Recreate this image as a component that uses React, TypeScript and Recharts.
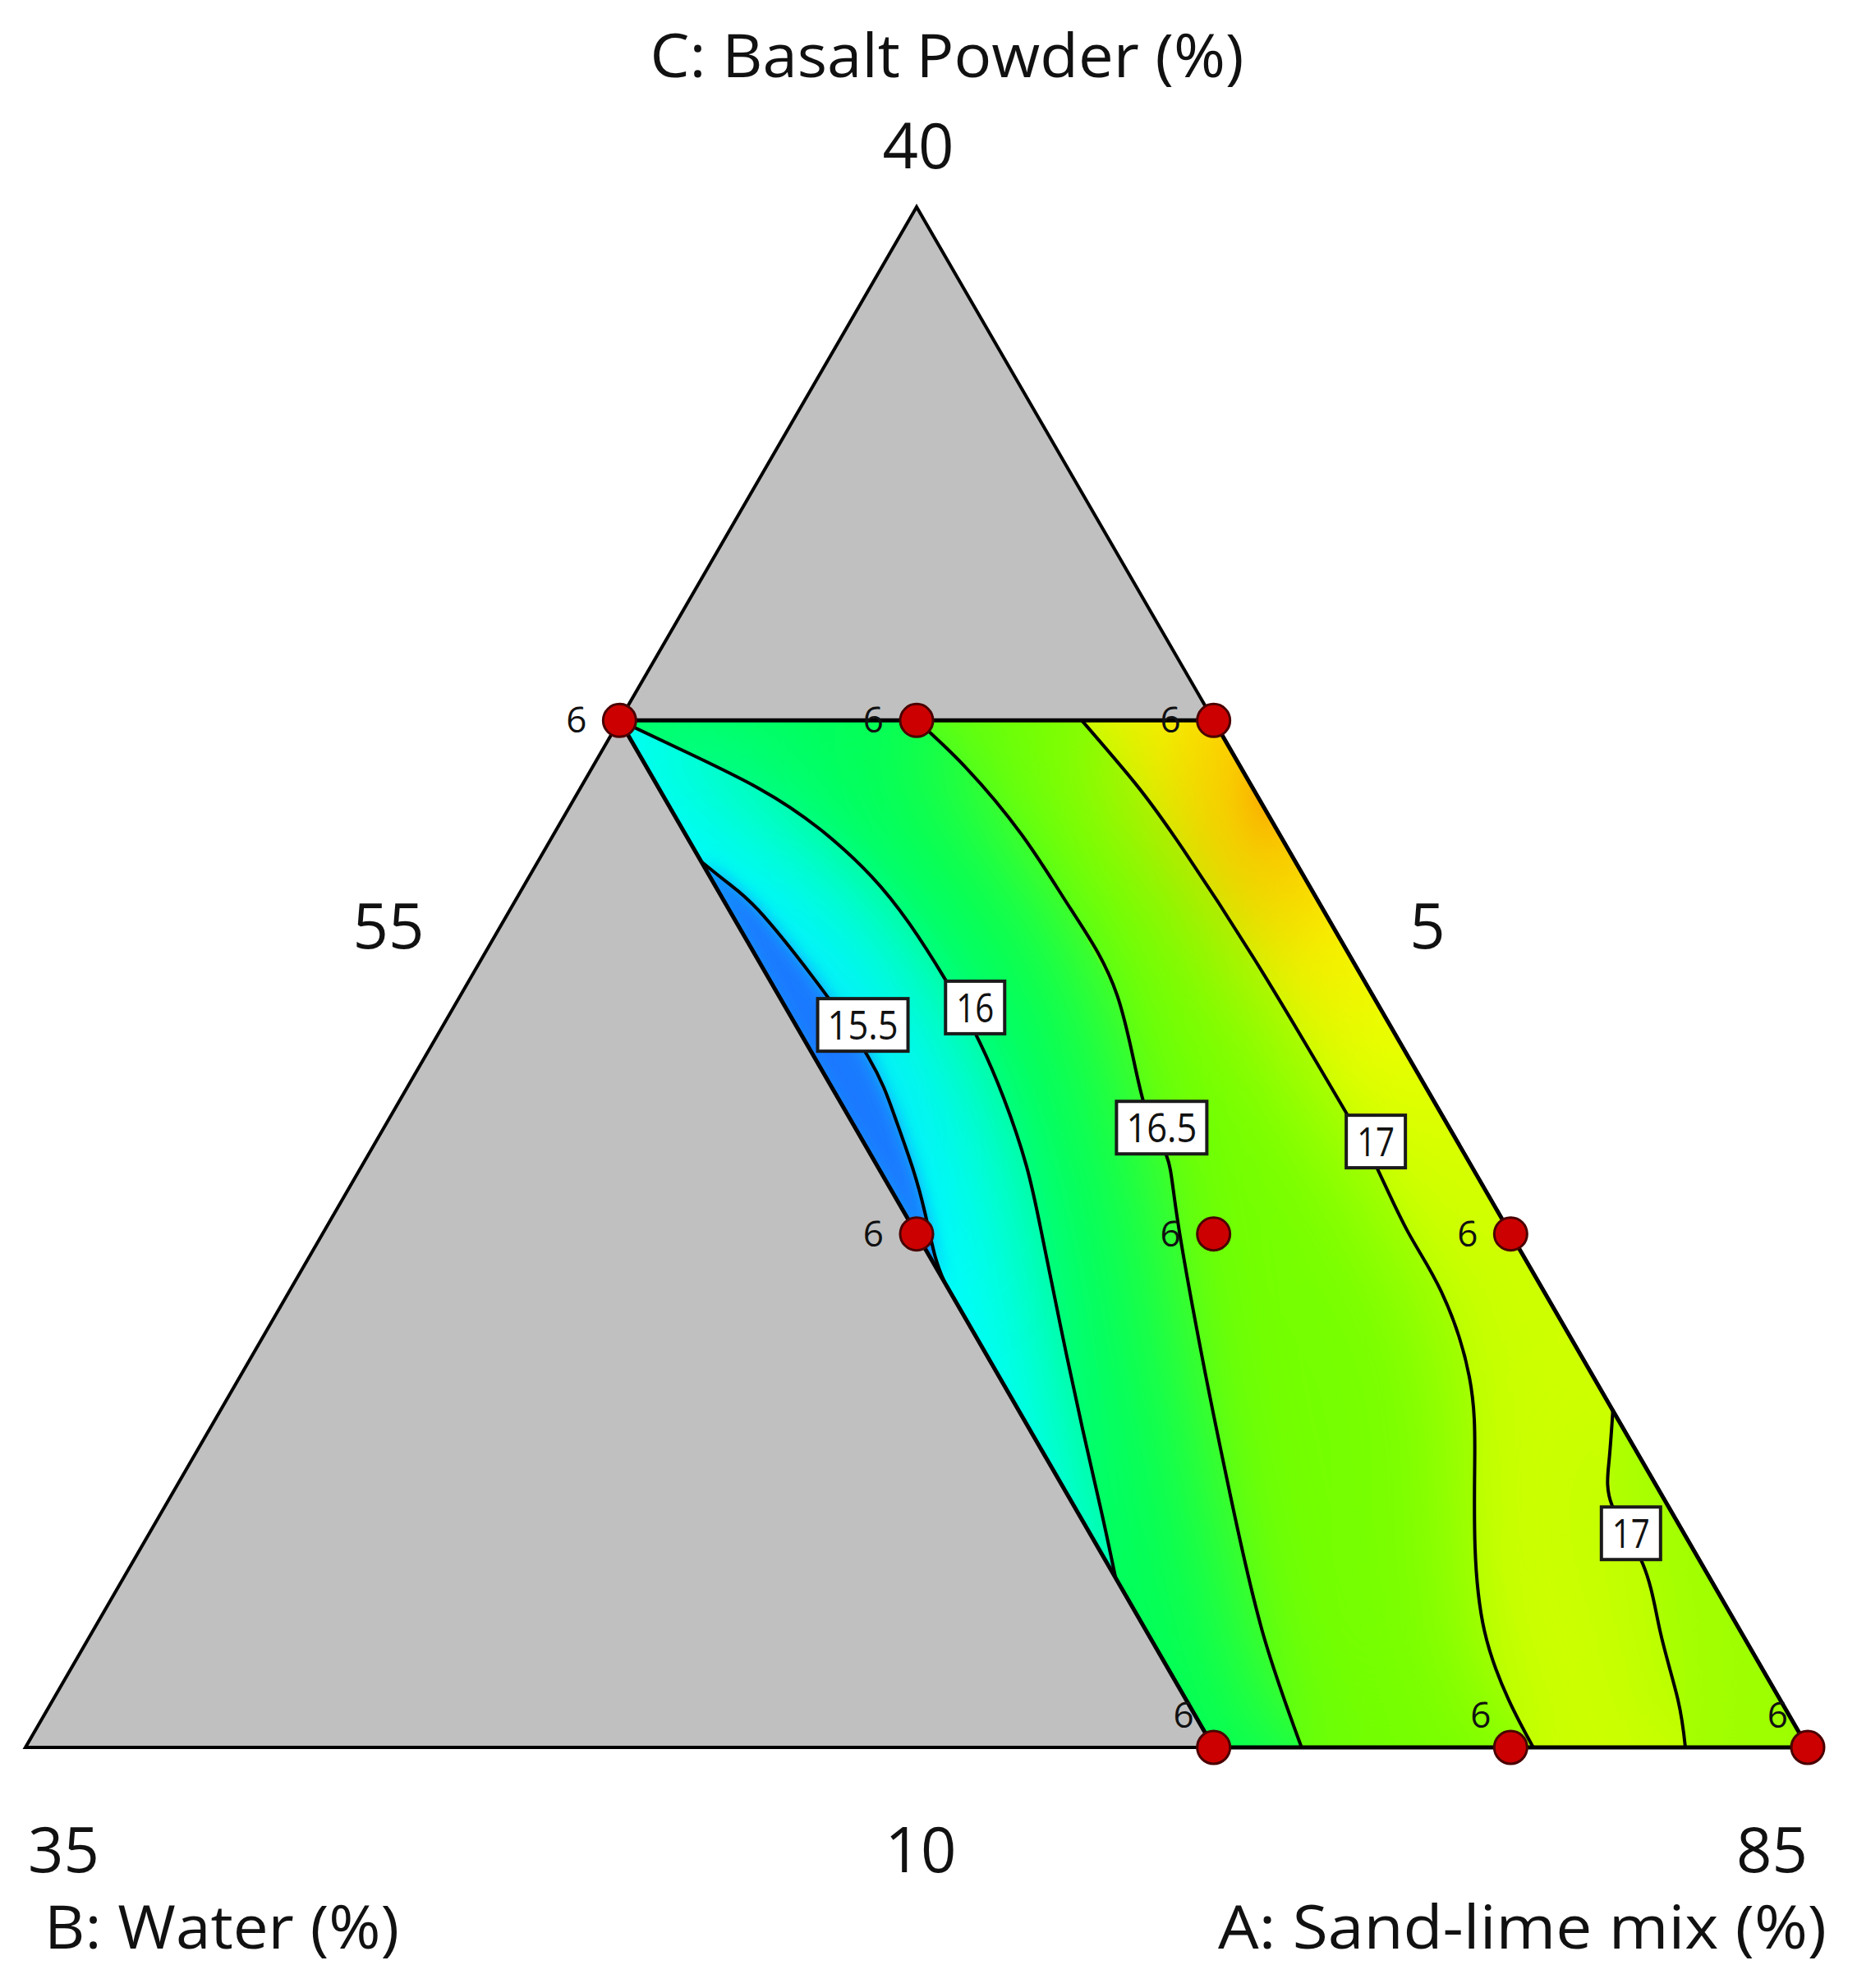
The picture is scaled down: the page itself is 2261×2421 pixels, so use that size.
import React from 'react';
import { ScatterChart, Scatter, XAxis, YAxis } from 'recharts';

// pseudo-component bounds of the simplex (%)
const sandRange = [55, 85];
const waterRange = [5, 35];
const basaltRange = [10, 40];

// constrained design region (water, basalt)
const regionWater = [15, 5, 5, 15];
const regionBasalt = [30, 30, 10, 10];

// design runs: water (B) and basalt (C); sand-lime = 100 - B - C
const runWater = [15, 10, 5, 15, 10, 5, 15, 10, 5];
const runBasalt = [30, 30, 30, 20, 20, 20, 10, 10, 10];
const runReplicates = [6, 6, 6, 6, 6, 6, 6, 6, 6];

// contour lines (water %, basalt %)
const water155 = [15.0, 14.75, 14.51, 14.25, 14.09, 14.22, 14.43, 14.66, 14.91, 15.0];
const basalt155 = [27.25, 26.82, 26.3, 25.03, 23.45, 22.31, 21.26, 20.39, 19.55, 19.05];

const water16 = [15.0, 14.22, 13.32, 12.69, 12.28, 12.1, 12.04, 12.06, 12.21, 12.49, 12.88, 13.47, 14.1, 14.6, 15.0];
const basalt16 = [30.0, 29.41, 28.68, 27.89, 26.97, 26.04, 24.97, 23.88, 22.65, 21.32, 20.04, 18.22, 16.22, 14.57, 13.3];

const water165 = [10.0, 9.63, 9.34, 9.24, 9.3, 9.89, 10.03, 10.45, 11.41, 12.27, 13.05, 13.52];
const basalt165 = [30.0, 29.08, 27.75, 26.3, 24.65, 22.59, 21.53, 20.33, 17.55, 14.89, 12.26, 10.0];

const water17a = [7.22, 6.93, 6.77, 6.63, 6.59, 6.61, 6.71, 6.73, 7.09, 7.82, 8.65, 9.31, 9.57, 9.62];
const basalt17a = [30.0, 28.76, 27.5, 25.11, 22.36, 21.26, 20.04, 18.88, 17.21, 15.57, 13.9, 12.26, 10.93, 10.0];

const water17b = [5.0, 5.56, 5.94, 5.99, 6.36, 6.72, 7.06];
const basalt17b = [16.56, 15.57, 14.7, 13.57, 12.24, 10.93, 10.0];

// contour labels
const tagText = ['15.5', '16', '16.5', '17', '17'];
const tagWater = [13.87, 11.81, 9.84, 6.37, 5.89];
const tagBasalt = [24.07, 24.41, 22.07, 21.8, 14.17];

const W = 2261;
const H = 2421;
const FONT = "'Open Sans', 'Noto Sans', sans-serif";
const SPAN = sandRange[1] - sandRange[0];
const TOP = Math.sqrt(3) / 2;

const toXY = (water: number, basalt: number) => {
  const b = (water - waterRange[0]) / SPAN;
  const c = (basalt - basaltRange[0]) / SPAN;
  return { x: 1 - b - c + c / 2, y: c * TOP };
};
const pts = (w: number[], c: number[]) => w.map((v, i) => toXY(v, c[i]));
const rev = <T,>(a: T[]) => [...a].reverse();

const triangle = [
  toXY(waterRange[1], basaltRange[0]),
  toXY(waterRange[0], basaltRange[0]),
  toXY(waterRange[0], basaltRange[1]),
];
const region = pts(regionWater, regionBasalt);
const c155 = pts(water155, basalt155);
const c16 = pts(water16, basalt16);
const c165 = pts(water165, basalt165);
const c17a = pts(water17a, basalt17a);
const c17b = pts(water17b, basalt17b);

const bands = [
  { key: 'lt155', fill: '#1a6eff', data: c155 },
  { key: 'b155', fill: '#00ffff', data: [...c16, ...rev(c155)] },
  { key: 'b16', fill: '#00ff58', data: [...c165, region[3], ...rev(c16)] },
  { key: 'b165', fill: '#74ff00', data: [...c17a, ...rev(c165)] },
  { key: 'gt17', fill: 'url(#hotCorner)', data: [region[1], ...c17b, ...rev(c17a)] },
  { key: 'b17', fill: '#9cff00', data: [...c17b, region[2]] },
];

const contours = [c155, c16, c165, c17a, c17b];
const tags = tagText.map((t, i) => ({ ...toXY(tagWater[i], tagBasalt[i]), text: t }));
const runs = runWater.map((w, i) => ({ ...toXY(w, runBasalt[i]), basalt: runBasalt[i], n: runReplicates[i] }));

const closed = (p: { x: number; y: number }[]) =>
  p.map((q, i) => `${i ? 'L' : 'M'}${q.x},${q.y}`).join('') + 'Z';

const noDot = () => <g />;

const drawTriangle = (p: any) => (
  <g>
    <defs>
      <filter id="bandBlur" filterUnits="userSpaceOnUse" x="0" y="0" width={W} height={H}>
        <feGaussianBlur stdDeviation="75" />
      </filter>
      <filter id="edgeBlur" filterUnits="userSpaceOnUse" x="0" y="0" width={W} height={H}>
        <feGaussianBlur stdDeviation="10" />
      </filter>
      <radialGradient id="hotCorner" cx="0.28" cy="0.07" r="0.62" fx="0.3" fy="0.08">
        <stop offset="0" stopColor="#ff9800" />
        <stop offset="0.1" stopColor="#ffc400" />
        <stop offset="0.28" stopColor="#ffee00" />
        <stop offset="0.5" stopColor="#f0ff00" />
        <stop offset="0.75" stopColor="#dcff00" />
        <stop offset="1" stopColor="#d0ff00" />
      </radialGradient>
    </defs>
    <path d={closed(p.points)} fill="#c0c0c0" stroke="#000" strokeWidth={4} />
  </g>
);

const drawClip = (p: any) => (
  <defs>
    <clipPath id="regionClip">
      <path d={closed(p.points)} />
    </clipPath>
  </defs>
);

const drawBand = (fill: string, filter?: string, opacity = 1) => (p: any) => (
  <g clipPath="url(#regionClip)">
    <path d={closed(p.points)} fill={fill} stroke="none" filter={filter} opacity={opacity} />
  </g>
);

const drawOutline = (p: any) => (
  <path d={closed(p.points)} fill="none" stroke="#000" strokeWidth={5} strokeLinejoin="round" />
);

const drawTag = (p: any) => {
  const { cx, cy, payload } = p;
  const long = payload.text.length > 2;
  const w = long ? 110 : 72;
  return (
    <g>
      <rect x={cx - w / 2} y={cy - 32} width={w} height={64} fill="#fff" stroke="#1a1a1a" strokeWidth={4} />
      <text
        x={cx}
        y={cy + 18}
        textAnchor="middle"
        fontSize={50}
        fontFamily={FONT}
        fill="#111"
        textLength={long ? 86 : 46}
        lengthAdjust="spacingAndGlyphs"
      >
        {payload.text}
      </text>
    </g>
  );
};

const drawRun = (p: any) => {
  const { cx, cy, payload } = p;
  const low = payload.basalt === basaltRange[0];
  return (
    <g>
      <text
        x={cx - (low ? 24 : 40)}
        y={cy + (low ? -24 : 15)}
        textAnchor="end"
        fontSize={44}
        fontFamily={FONT}
        fill="#111"
      >
        {payload.n}
      </text>
      <circle cx={cx} cy={cy} r={20} fill="#cc0000" stroke="#4a0000" strokeWidth={3} />
    </g>
  );
};

const txt = { fontFamily: FONT, fill: '#111' };

export default function App() {
  return (
    <div style={{ position: 'absolute', left: 0, top: 0, width: W, height: H, background: '#fff' }}>
      <ScatterChart width={W} height={H} margin={{ top: 252, right: 60, bottom: 293, left: 31 }}>
        <XAxis type="number" dataKey="x" domain={[0, 1]} hide />
        <YAxis type="number" dataKey="y" domain={[0, TOP]} hide />
        <Scatter data={triangle} line={drawTriangle} shape={noDot} isAnimationActive={false} />
        <Scatter data={region} line={drawClip} shape={noDot} isAnimationActive={false} />
        {bands.map((b) => (
          <Scatter key={b.key} data={b.data} line={drawBand(b.fill)} shape={noDot} isAnimationActive={false} />
        ))}
        {bands.map((b) => (
          <Scatter
            key={b.key + '-soft'}
            data={b.data}
            line={drawBand(b.fill, 'url(#bandBlur)')}
            shape={noDot}
            isAnimationActive={false}
          />
        ))}
        <Scatter data={bands[0].data} line={drawBand(bands[0].fill, 'url(#edgeBlur)', 0.8)} shape={noDot} isAnimationActive={false} />
        <Scatter data={region} line={drawOutline} shape={noDot} isAnimationActive={false} />
        {contours.map((c, i) => (
          <Scatter
            key={'contour' + i}
            data={c}
            line={{ stroke: '#000', strokeWidth: 4 }}
            lineJointType="natural"
            shape={noDot}
            isAnimationActive={false}
          />
        ))}
        <Scatter data={tags} shape={drawTag} isAnimationActive={false} />
        <Scatter data={runs} shape={drawRun} isAnimationActive={false} />
      </ScatterChart>
      <svg width={W} height={H} style={{ position: 'absolute', left: 0, top: 0, pointerEvents: 'none' }}>
        <text x={1153} y={94} textAnchor="middle" fontSize={74} textLength={723} lengthAdjust="spacingAndGlyphs" {...txt}>
          C: Basalt Powder (%)
        </text>
        <text x={1118} y={205} textAnchor="middle" fontSize={76} {...txt}>{basaltRange[1]}</text>
        <text x={473} y={1155} textAnchor="middle" fontSize={76} {...txt}>{sandRange[0]}</text>
        <text x={1738} y={1155} textAnchor="middle" fontSize={76} {...txt}>{waterRange[0]}</text>
        <text x={34} y={2280} textAnchor="start" fontSize={76} {...txt}>{waterRange[1]}</text>
        <text x={1121} y={2280} textAnchor="middle" fontSize={76} {...txt}>{basaltRange[0]}</text>
        <text x={2201} y={2280} textAnchor="end" fontSize={76} {...txt}>{sandRange[1]}</text>
        <text x={54} y={2373} textAnchor="start" fontSize={74} textLength={432} lengthAdjust="spacingAndGlyphs" {...txt}>
          B: Water (%)
        </text>
        <text x={2224} y={2373} textAnchor="end" fontSize={74} textLength={741} lengthAdjust="spacingAndGlyphs" {...txt}>
          A: Sand-lime mix (%)
        </text>
      </svg>
    </div>
  );
}
